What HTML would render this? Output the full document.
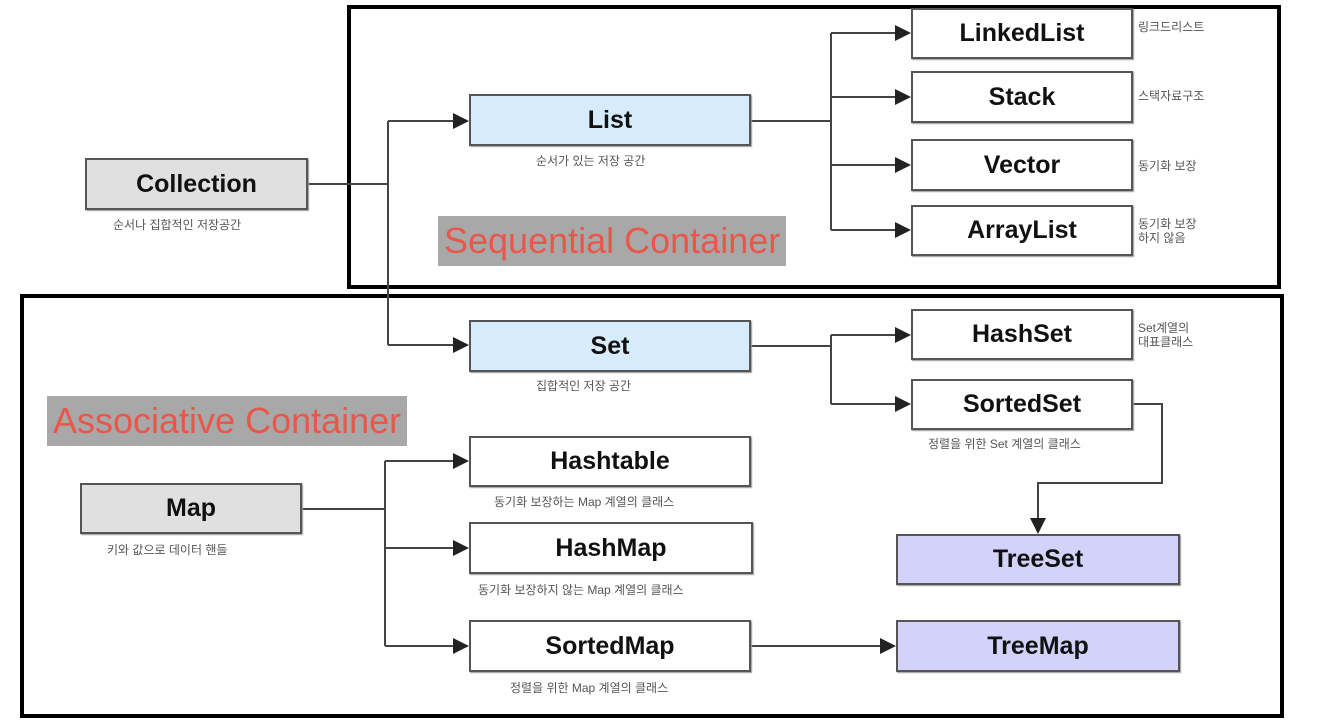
<!DOCTYPE html>
<html><head><meta charset="utf-8"><style>
body{margin:0;width:1340px;height:722px;background:#fff;position:relative;overflow:hidden;font-family:"Liberation Sans","Noto Sans CJK KR",sans-serif}
.b{position:absolute;box-sizing:border-box;border:2px solid #555;background:#fff;display:flex;align-items:center;justify-content:center;font-weight:bold;font-size:25px;color:#111;box-shadow:1px 1px 1px #999}
.g{background:#e0e0e0}.bl{background:#d6ebfb}.pu{background:#d2d2fa}
.t{position:absolute;font-size:12px;color:#555;font-family:"Liberation Sans","Noto Sans CJK KR",sans-serif;white-space:nowrap;line-height:14px}
.fr{position:absolute;box-sizing:border-box;border:4px solid #000}
.lab{position:absolute;background:#a8a8a8;color:#e8574a;font-size:36px;line-height:50px;padding:0 6px;white-space:nowrap}
svg{position:absolute;left:0;top:0}
</style></head><body>
<div class="fr" style="left:347px;top:5px;width:934px;height:284px"></div>
<div class="fr" style="left:20px;top:294px;width:1264px;height:424px"></div>
<svg width="1340" height="722">
<defs><marker id="a" markerWidth="8" markerHeight="8" refX="7" refY="4" orient="auto"><path d="M0,0L8,4L0,8z" fill="#222"/></marker></defs>
<g stroke="#444" stroke-width="2" fill="none">
<path d="M308,184H388M388,121V345M388,121H467" marker-end="url(#a)"/>
<path d="M388,345H467" marker-end="url(#a)"/>
<path d="M751,121H831M831,33V230"/>
<path d="M831,33H909" marker-end="url(#a)"/><path d="M831,97H909" marker-end="url(#a)"/>
<path d="M831,165H909" marker-end="url(#a)"/><path d="M831,230H909" marker-end="url(#a)"/>
<path d="M751,346H831M831,335V404"/>
<path d="M831,335H909" marker-end="url(#a)"/><path d="M831,404H909" marker-end="url(#a)"/>
<path d="M1133,404H1162V483H1038V532" marker-end="url(#a)"/>
<path d="M302,509H385M385,461V646"/>
<path d="M385,461H467" marker-end="url(#a)"/><path d="M385,548H467" marker-end="url(#a)"/>
<path d="M385,646H467" marker-end="url(#a)"/>
<path d="M751,646H894" marker-end="url(#a)"/>
</g></svg>
<div class="b g" style="left:85px;top:158px;width:223px;height:52px">Collection</div>
<div class="t" style="left:113px;top:218px">순서나 집합적인 저장공간</div>
<div class="b bl" style="left:469px;top:94px;width:282px;height:52px">List</div>
<div class="t" style="left:536px;top:154px">순서가 있는 저장 공간</div>
<div class="b" style="left:911px;top:8px;width:222px;height:51px">LinkedList</div>
<div class="t" style="left:1138px;top:20px">링크드리스트</div>
<div class="b" style="left:911px;top:71px;width:222px;height:52px">Stack</div>
<div class="t" style="left:1138px;top:89px">스택자료구조</div>
<div class="b" style="left:911px;top:139px;width:222px;height:52px">Vector</div>
<div class="t" style="left:1138px;top:159px">동기화 보장</div>
<div class="b" style="left:911px;top:205px;width:222px;height:51px">ArrayList</div>
<div class="t" style="left:1138px;top:217px">동기화 보장<br>하지 않음</div>
<div class="lab" style="left:438px;top:216px">Sequential Container</div>
<div class="b bl" style="left:469px;top:320px;width:282px;height:52px">Set</div>
<div class="t" style="left:536px;top:379px">집합적인 저장 공간</div>
<div class="b" style="left:911px;top:309px;width:222px;height:51px">HashSet</div>
<div class="t" style="left:1138px;top:321px">Set계열의<br>대표클래스</div>
<div class="b" style="left:911px;top:379px;width:222px;height:51px">SortedSet</div>
<div class="t" style="left:928px;top:437px">정렬을 위한 Set 계열의 클래스</div>
<div class="lab" style="left:47px;top:396px">Associative Container</div>
<div class="b g" style="left:80px;top:483px;width:222px;height:51px">Map</div>
<div class="t" style="left:107px;top:543px">키와 값으로 데이터 핸들</div>
<div class="b" style="left:469px;top:436px;width:282px;height:51px">Hashtable</div>
<div class="t" style="left:494px;top:495px">동기화 보장하는 Map 계열의 클래스</div>
<div class="b" style="left:469px;top:522px;width:284px;height:52px">HashMap</div>
<div class="t" style="left:478px;top:583px">동기화 보장하지 않는 Map 계열의 클래스</div>
<div class="b" style="left:469px;top:620px;width:282px;height:52px">SortedMap</div>
<div class="t" style="left:510px;top:681px">정렬을 위한 Map 계열의 클래스</div>
<div class="b pu" style="left:896px;top:534px;width:284px;height:51px">TreeSet</div>
<div class="b pu" style="left:896px;top:620px;width:284px;height:52px">TreeMap</div>
</body></html>
